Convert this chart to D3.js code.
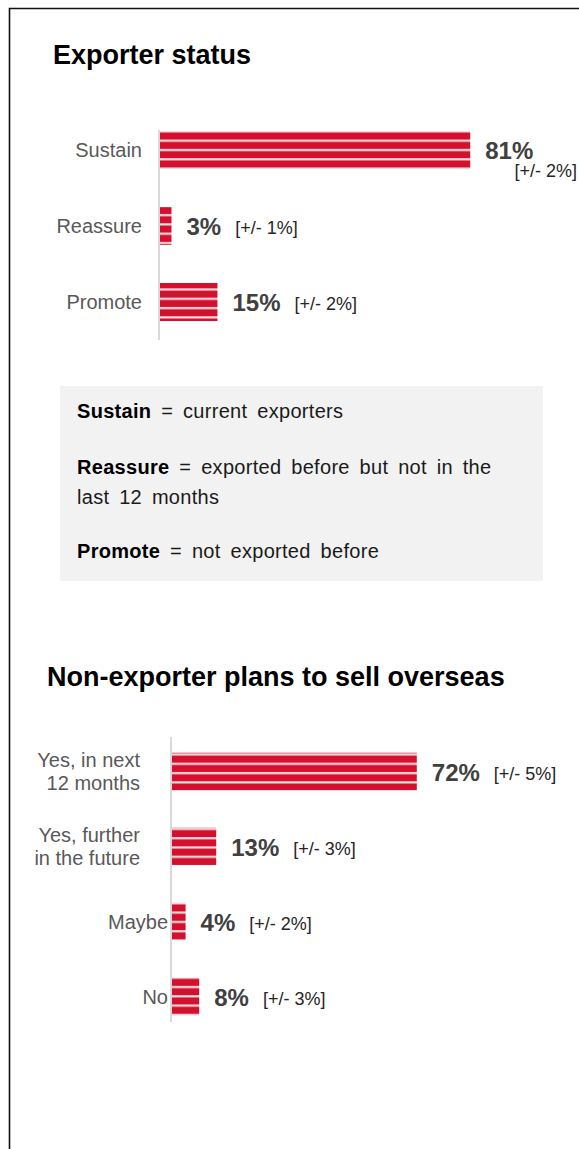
<!DOCTYPE html>
<html>
<head>
<meta charset="utf-8">
<script src="https://cdn.jsdelivr.net/npm/d3@7"></script>
<style>
  html, body { margin: 0; padding: 0; background: #fff; }
  svg { display: block; font-family: "Liberation Sans", Arial, sans-serif; }
</style>
</head>
<body>
<svg id="chart" width="579" height="1149"></svg>
<script>
// ---- Exporter status ----
const statusCategories = [["Sustain"], ["Reassure"], ["Promote"]];
const statusValues = [81, 3, 15];
const statusMargins = [2, 1, 2];

// ---- Non-exporter plans to sell overseas ----
const planCategories = [["Yes, in next", "12 months"], ["Yes, further", "in the future"], ["Maybe"], ["No"]];
const planValues = [72, 13, 4, 8];
const planMargins = [5, 3, 2, 3];

// ---- Definitions box ----
const definitionTerms = ["Sustain", "Reassure", "Promote"];
const definitionLines = [["= current exporters"], ["= exported before but not in the", "last 12 months"], ["= not exported before"]];

const svg = d3.select("#chart");
const RED = "#d3112e";
const FONT_BOLD = 700;

// Striped fill used for every bar
const defs = svg.append("defs");
const pat = defs.append("pattern")
  .attr("id", "stripes")
  .attr("patternUnits", "userSpaceOnUse")
  .attr("width", 10).attr("height", 9.3);
pat.append("rect").attr("width", 10).attr("height", 9.3).attr("fill", RED);
pat.append("rect").attr("y", 0).attr("width", 10).attr("height", 2.4).attr("fill", "#f1b9c2");
pat.append("rect").attr("y", 0.7).attr("width", 10).attr("height", 1).attr("fill", "#fbe8eb");

// Outer frame (extends past the right and bottom edges)
svg.append("path")
  .attr("d", "M9.5,1149 V8.5 H579")
  .attr("fill", "none").attr("stroke", "#111").attr("stroke-width", 1.6);

// Section titles
svg.append("text").attr("x", 53).attr("y", 64)
  .attr("font-size", 27).attr("font-weight", FONT_BOLD).attr("fill", "#000")
  .text("Exporter status");
svg.append("text").attr("x", 47).attr("y", 686)
  .attr("font-size", 27).attr("font-weight", FONT_BOLD).attr("fill", "#000")
  .text("Non-exporter plans to sell overseas");

function drawBarChart(cfg) {
  const g = svg.append("g");
  const x = d3.scaleLinear().domain([0, 100]).range([cfg.x0, cfg.x0 + cfg.fullWidth]);
  const idx = d3.range(cfg.values.length);
  const y = d3.scaleBand().domain(idx).range(cfg.yRange).paddingInner(cfg.padding).paddingOuter(cfg.padding / 2);

  // baseline axis
  g.append("line")
    .attr("x1", cfg.x0 - 1).attr("x2", cfg.x0 - 1)
    .attr("y1", cfg.axisTop).attr("y2", cfg.axisBottom)
    .attr("stroke", "#d9d9d9").attr("stroke-width", 2);

  // bars
  g.selectAll("rect.bar").data(idx).join("rect")
    .attr("class", "bar")
    .attr("x", x(0))
    .attr("y", i => y(i))
    .attr("width", i => x(cfg.values[i]) - x(0))
    .attr("height", y.bandwidth())
    .attr("fill", "url(#stripes)");

  // category labels
  idx.forEach(i => {
    const lines = cfg.categories[i];
    const cy = y(i) + y.bandwidth() / 2;
    const right = lines.length > 1 ? cfg.x0 - cfg.multiGap : cfg.x0 - cfg.labelGap;
    const t = g.append("text")
      .attr("text-anchor", "end")
      .attr("font-size", 20).attr("fill", "#595959");
    lines.forEach((ln, k) => {
      t.append("tspan").attr("x", right)
        .attr("y", cy + 7 - (lines.length - 1) * 23 / 2 + k * 23)
        .text(ln);
    });
  });

  // value and margin labels
  idx.forEach(i => {
    const cy = y(i) + y.bandwidth() / 2;
    const vx = x(cfg.values[i]) + 15;
    const v = g.append("text")
      .attr("x", vx).attr("y", cy + 9)
      .attr("font-size", 24).attr("font-weight", FONT_BOLD).attr("fill", "#404040")
      .text(cfg.values[i] + "%");
    const vw = v.node().getComputedTextLength();
    const m = g.append("text")
      .attr("font-size", 18).attr("fill", "#262626")
      .text("[+/- " + cfg.margins[i] + "%]");
    const mw = m.node().getComputedTextLength();
    const mx = vx + vw + 14;
    if (mx + mw > 577) {
      m.attr("x", 577).attr("text-anchor", "end").attr("y", cy + 27);
    } else {
      m.attr("x", mx).attr("y", cy + 8);
    }
  });
}

drawBarChart({
  categories: statusCategories, values: statusValues, margins: statusMargins,
  x0: 160, fullWidth: 383,
  yRange: [112, 340], padding: 0.5,
  axisTop: 130, axisBottom: 340,
  labelGap: 18, multiGap: 18
});

drawBarChart({
  categories: planCategories, values: planValues, margins: planMargins,
  x0: 172, fullWidth: 340,
  yRange: [734, 1034], padding: 0.5,
  axisTop: 737, axisBottom: 1022,
  labelGap: 4, multiGap: 32
});

// Definitions box
const box = svg.append("g");
box.append("rect").attr("x", 60).attr("y", 386).attr("width", 483).attr("height", 195).attr("fill", "#f2f2f2");
const lineY = [[418], [474, 504], [558]];
definitionTerms.forEach((term, i) => {
  definitionLines[i].forEach((ln, k) => {
    const t = box.append("text")
      .attr("x", 77).attr("y", lineY[i][k])
      .attr("font-size", 20).attr("fill", "#1a1a1a")
      .attr("letter-spacing", 0.3)
      .attr("word-spacing", 4);
    if (k === 0) {
      t.append("tspan").attr("font-weight", FONT_BOLD).attr("fill", "#000").text(term);
      t.append("tspan").text(" " + ln);
    } else {
      t.text(ln);
    }
  });
});
</script>
</body>
</html>
